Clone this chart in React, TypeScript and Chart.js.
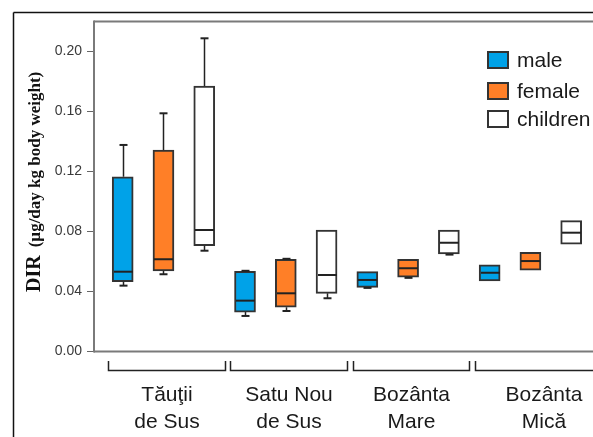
import { useEffect, useRef } from "react";
import { Chart, registerables } from "chart.js";

Chart.register(...registerables);

// ---- Data ----
const groupLabels: string[][] = [
  ["Tăuţii", "de Sus"],
  ["Satu Nou", "de Sus"],
  ["Bozânta", "Mare"],
  ["Bozânta", "Mică"],
];
const seriesLabels = ["male", "female", "children"];
const yTickValues = [0, 0.04, 0.08, 0.12, 0.16, 0.2];
const yTitleMain = "DIR";
const yTitleUnit = "(µg/day kg body weight)";

const maleMin = [0.0439, 0.0237, 0.0424, 0.047];
const maleQ1 = [0.0465, 0.0263, 0.0428, 0.047];
const maleMedian = [0.0532, 0.0339, 0.0477, 0.0525];
const maleQ3 = [0.1165, 0.0535, 0.0532, 0.0577];
const maleMax = [0.1377, 0.0538, 0.0532, 0.0577];

const femaleMin = [0.0515, 0.027, 0.0491, 0.0543];
const femaleQ1 = [0.0537, 0.0295, 0.0495, 0.0543];
const femaleMedian = [0.0615, 0.0388, 0.0555, 0.0603];
const femaleQ3 = [0.1343, 0.0615, 0.0615, 0.0661];
const femaleMax = [0.1588, 0.0618, 0.0615, 0.0661];

const childrenMin = [0.0672, 0.0355, 0.0646, 0.0715];
const childrenQ1 = [0.0705, 0.0388, 0.065, 0.0715];
const childrenMedian = [0.081, 0.051, 0.0725, 0.0792];
const childrenQ3 = [0.177, 0.081, 0.081, 0.0872];
const childrenMax = [0.2088, 0.081, 0.081, 0.0872];

// ---- Styles ----
const W = 593;
const H = 437;
const COLORS = ["#00A2E8", "#FF7F27", "#FFFFFF"];
const EDGE = "#333333";
const AXIS_GRAY = "#7a7a7a";
const TEXT = "#1a1a1a";
const SANS = '"Liberation Sans", Arial, sans-serif';
const SERIF = '"Liberation Serif", "Times New Roman", serif';
const legendRowTops = [52, 83, 111];

export default function App() {
  const ref = useRef<HTMLCanvasElement>(null);

  useEffect(() => {
    const canvas = ref.current!;
    const stats = [
      { min: maleMin, q1: maleQ1, med: maleMedian, q3: maleQ3, max: maleMax },
      { min: femaleMin, q1: femaleQ1, med: femaleMedian, q3: femaleQ3, max: femaleMax },
      { min: childrenMin, q1: childrenQ1, med: childrenMedian, q3: childrenQ3, max: childrenMax },
    ];
    const nS = seriesLabels.length;

    const datasets = seriesLabels.map((label, s) => ({
      label,
      data: groupLabels.map((_, g) => ({ x: g * nS + s, y: [stats[s].q1[g], stats[s].q3[g]] })),
      backgroundColor: COLORS[s],
      borderColor: EDGE,
      borderWidth: 2,
      borderSkipped: false,
      barThickness: 21,
      grouped: false,
    }));

    const line = (ctx: CanvasRenderingContext2D, x1: number, y1: number, x2: number, y2: number) => {
      ctx.beginPath();
      ctx.moveTo(x1, y1);
      ctx.lineTo(x2, y2);
      ctx.stroke();
    };

    const boxPlugin = {
      id: "boxExtras",
      beforeDatasetsDraw(chart: any) {
        const { ctx, chartArea } = chart;
        ctx.save();
        // outer frame
        ctx.strokeStyle = "#111";
        ctx.lineWidth = 1.5;
        line(ctx, 13.5, 12.5, W, 12.5);
        line(ctx, 13.5, 12.5, 13.5, H);
        // plot frame
        ctx.strokeStyle = AXIS_GRAY;
        ctx.lineWidth = 2;
        line(ctx, chartArea.left, chartArea.top, W, chartArea.top);
        line(ctx, chartArea.left, chartArea.top - 1, chartArea.left, chartArea.bottom + 1);
        line(ctx, chartArea.left, chartArea.bottom, W, chartArea.bottom);
        ctx.restore();
      },
      afterDatasetsDraw(chart: any) {
        const { ctx } = chart;
        const x = chart.scales.x;
        const y = chart.scales.y;
        ctx.save();
        ctx.strokeStyle = "#222";
        stats.forEach((st, s) => {
          groupLabels.forEach((_, g) => {
            const cx = Math.round(x.getPixelForValue(g * nS + s)) + 0.5;
            const half = 10.5;
            const capHalf = 4;
            // median
            ctx.lineWidth = 2;
            const ym = y.getPixelForValue(st.med[g]);
            line(ctx, cx - half + 1, ym, cx + half - 1, ym);
            ctx.lineWidth = 1.5;
            // upper whisker
            if (st.max[g] > st.q3[g]) {
              const y3 = y.getPixelForValue(st.q3[g]);
              const yx = y.getPixelForValue(st.max[g]);
              line(ctx, cx, y3, cx, yx);
              ctx.lineWidth = 2;
              line(ctx, cx - capHalf, yx, cx + capHalf, yx);
              ctx.lineWidth = 1.5;
            }
            // lower whisker
            if (st.min[g] < st.q1[g]) {
              const y1 = y.getPixelForValue(st.q1[g]);
              const yn = y.getPixelForValue(st.min[g]);
              line(ctx, cx, y1, cx, yn);
              ctx.lineWidth = 2;
              line(ctx, cx - capHalf, yn, cx + capHalf, yn);
              ctx.lineWidth = 1.5;
            }
          });
        });
        ctx.restore();
      },
      afterDraw(chart: any) {
        const { ctx } = chart;
        const x = chart.scales.x;
        ctx.save();
        // group brackets and labels
        ctx.strokeStyle = "#222";
        ctx.lineWidth = 1.5;
        ctx.fillStyle = TEXT;
        ctx.font = `21px ${SANS}`;
        ctx.textAlign = "center";
        ctx.textBaseline = "alphabetic";
        groupLabels.forEach((lines, g) => {
          const start = g * nS - 0.36;
          const end = g === groupLabels.length - 1 ? g * nS + 3.0 : g * nS + 2.5;
          const x1 = Math.round(x.getPixelForValue(start)) + 0.5;
          const x2 = Math.round(x.getPixelForValue(end)) + 0.5;
          ctx.beginPath();
          ctx.moveTo(x1, 361);
          ctx.lineTo(x1, 370.5);
          ctx.lineTo(x2, 370.5);
          ctx.lineTo(x2, 361);
          ctx.stroke();
          const c = (x1 + x2) / 2;
          ctx.fillText(lines[0], c, 401);
          ctx.fillText(lines[1], c, 428);
        });

        // legend
        ctx.textAlign = "left";
        seriesLabels.forEach((label, s) => {
          const top = legendRowTops[s];
          ctx.fillStyle = COLORS[s];
          ctx.fillRect(488, top, 20, 16);
          ctx.strokeStyle = EDGE;
          ctx.lineWidth = 2;
          ctx.strokeRect(488, top, 20, 16);
          ctx.fillStyle = TEXT;
          ctx.font = `21px ${SANS}`;
          ctx.fillText(label, 517, top + 14.5);
        });

        // y-axis title
        ctx.translate(40, 292);
        ctx.rotate(-Math.PI / 2);
        ctx.fillStyle = "#111";
        ctx.font = `bold 20px ${SERIF}`;
        ctx.fillText(yTitleMain, 0, 0);
        const w = ctx.measureText(yTitleMain).width;
        ctx.font = `bold 17px ${SERIF}`;
        ctx.fillText(yTitleUnit, w + 8, 0);
        ctx.restore();
      },
    };

    const chart = new Chart(canvas, {
      type: "bar",
      data: { datasets } as any,
      options: {
        animation: false,
        responsive: false,
        devicePixelRatio: 1,
        layout: { padding: { top: 21.5, bottom: 85.5, left: 0, right: 0 } },
        plugins: { legend: { display: false }, tooltip: { enabled: false } },
        scales: {
          x: { type: "linear", display: false, offset: false, min: -0.704, max: 11.535 },
          y: {
            min: 0,
            max: 0.22,
            afterFit: (s: any) => {
              s.width = 94;
            },
            afterBuildTicks: (s: any) => {
              s.ticks = yTickValues.map((v) => ({ value: v }));
            },
            ticks: {
              callback: (v: any) => Number(v).toFixed(2),
              font: { family: SANS, size: 14 },
              color: "#3a3a3a",
              padding: 5,
            },
            grid: { drawOnChartArea: false, drawTicks: true, tickLength: 7, color: "#666", lineWidth: 1 },
            border: { display: false },
          },
        },
      } as any,
      plugins: [boxPlugin],
    });
    return () => chart.destroy();
  }, []);

  return (
    <div style={{ position: "fixed", left: 0, top: 0, width: W, height: H, background: "#fff" }}>
      <canvas ref={ref} width={W} height={H} style={{ display: "block", width: W, height: H }} />
    </div>
  );
}
